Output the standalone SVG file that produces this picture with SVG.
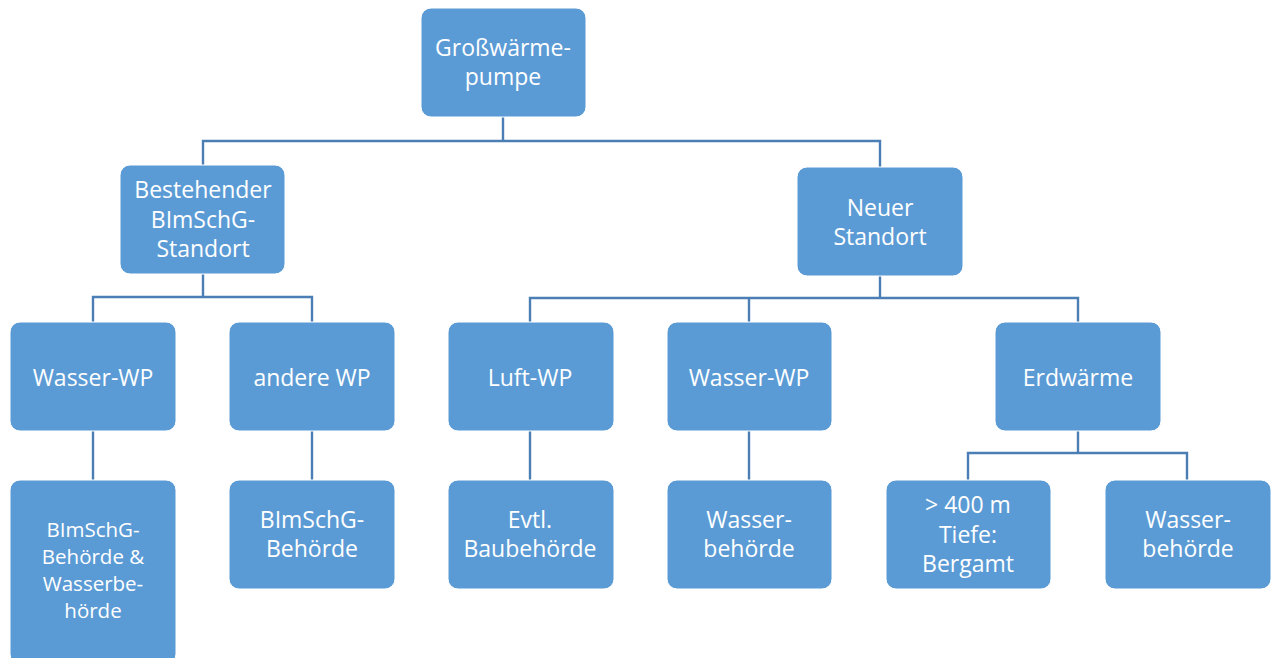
<svg xmlns="http://www.w3.org/2000/svg" width="1273" height="658" viewBox="0 0 1273 658">
<style>
.box{fill:#5B9BD5;stroke:#FFFFFF;stroke-width:1}
.t{font-family:"Open Sans","Liberation Sans",sans-serif;font-size:23px;fill:#FFFFFF;text-anchor:middle}
.s{font-size:20.5px}
.c{fill:none;stroke:#4A7EB5;stroke-width:2.4}
</style>
<rect width="1273" height="658" fill="#FFFFFF"/>
<g id="connectors">
<path class="c" d="M503,117 V141 M203,165 V141 H880 V167"/>
<path class="c" d="M203,274 V297 M93,322 V297 H312 V322"/>
<path class="c" d="M880,276 V298 M530,322 V298 H1078 V322 M749,298 V322"/>
<path class="c" d="M93,431 V480 M312,431 V480 M530,431 V480 M749,431 V480"/>
<path class="c" d="M1078,431 V453 M968,480 V453 H1187 V480"/>
</g>
<g id="n-grosswaermepumpe"><rect class="box" x="421" y="8" width="165" height="109" rx="10"/><text class="t" x="503" y="56">Großwärme-</text><text class="t" x="503" y="85">pumpe</text></g>
<g id="n-bestehender"><rect class="box" x="120" y="165" width="165" height="109" rx="10"/><text class="t" x="203" y="198">Bestehender</text><text class="t" x="203" y="228">BImSchG-</text><text class="t" x="203" y="257">Standort</text></g>
<g id="n-neuer"><rect class="box" x="797" y="167" width="166" height="109" rx="10"/><text class="t" x="880" y="216">Neuer</text><text class="t" x="880" y="245">Standort</text></g>
<g id="n-wasserwp1"><rect class="box" x="10" y="322" width="166" height="109" rx="10"/><text class="t" x="93" y="386">Wasser-WP</text></g>
<g id="n-anderewp"><rect class="box" x="229" y="322" width="166" height="109" rx="10"/><text class="t" x="312" y="386">andere WP</text></g>
<g id="n-luftwp"><rect class="box" x="448" y="322" width="166" height="109" rx="10"/><text class="t" x="530" y="386">Luft-WP</text></g>
<g id="n-wasserwp2"><rect class="box" x="667" y="322" width="165" height="109" rx="10"/><text class="t" x="749" y="386">Wasser-WP</text></g>
<g id="n-erdwaerme"><rect class="box" x="995" y="322" width="166" height="109" rx="10"/><text class="t" x="1078" y="386">Erdwärme</text></g>
<g id="n-bimschg-wasser"><rect class="box" x="10" y="480" width="166" height="184" rx="10"/><text class="t s" x="93" y="537">BImSchG-</text><text class="t s" x="93" y="564">Behörde &amp;</text><text class="t s" x="93" y="591">Wasserbe-</text><text class="t s" x="93" y="618">hörde</text></g>
<g id="n-bimschg-behoerde"><rect class="box" x="229" y="480" width="166" height="109" rx="10"/><text class="t" x="312" y="528">BImSchG-</text><text class="t" x="312" y="557">Behörde</text></g>
<g id="n-baubehoerde"><rect class="box" x="448" y="480" width="166" height="109" rx="10"/><text class="t" x="530" y="528">Evtl.</text><text class="t" x="530" y="557">Baubehörde</text></g>
<g id="n-wasserbehoerde1"><rect class="box" x="667" y="480" width="165" height="109" rx="10"/><text class="t" x="749" y="528">Wasser-</text><text class="t" x="749" y="557">behörde</text></g>
<g id="n-bergamt"><rect class="box" x="886" y="480" width="165" height="109" rx="10"/><text class="t" x="968" y="513">&gt; 400 m</text><text class="t" x="968" y="543">Tiefe:</text><text class="t" x="968" y="572">Bergamt</text></g>
<g id="n-wasserbehoerde2"><rect class="box" x="1105" y="480" width="166" height="109" rx="10"/><text class="t" x="1188" y="528">Wasser-</text><text class="t" x="1188" y="557">behörde</text></g>
</svg>
